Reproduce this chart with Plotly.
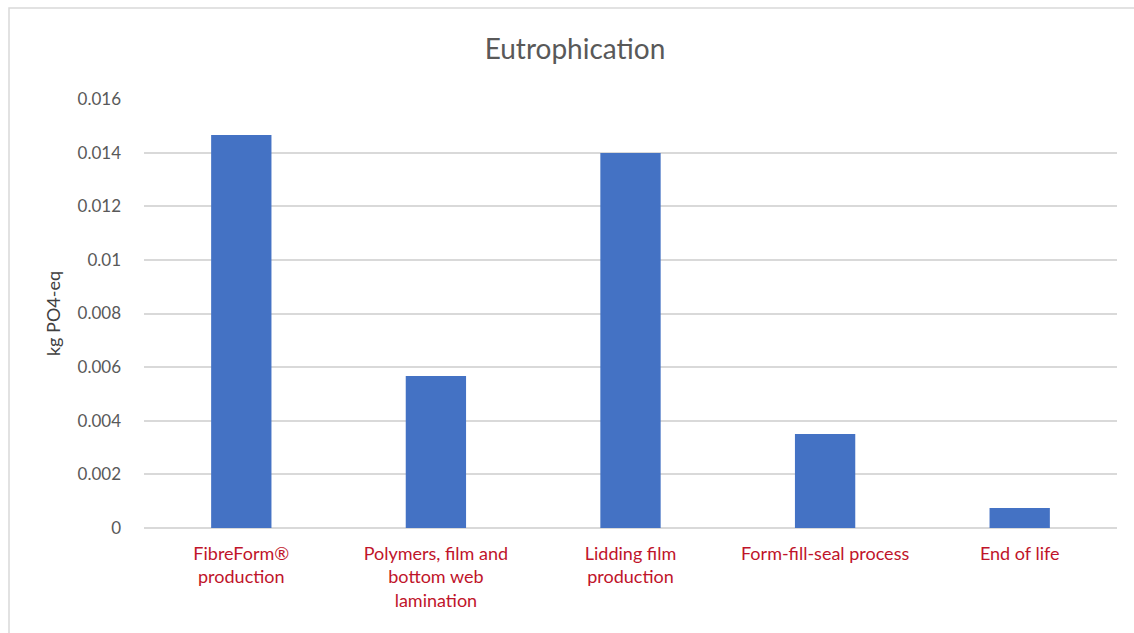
import plotly.graph_objects as go

categories = ["FibreForm®<br>production", "Polymers, film and<br>bottom web<br>lamination",
              "Lidding film<br>production", "Form-fill-seal process", "End of life"]
values = [0.01466, 0.00567, 0.01399, 0.00351, 0.00075]
tick_vals = [0, 0.002, 0.004, 0.006, 0.008, 0.010, 0.012, 0.014, 0.016]
tick_text = ["0", "0.002", "0.004", "0.006", "0.008", "0.01", "0.012", "0.014", "0.016"]

fig = go.Figure(go.Bar(x=categories, y=values, marker=dict(color="#4472C4", line=dict(width=0))))

fig.update_layout(
    width=1134, height=633,
    margin=dict(l=144, r=17, t=99, b=105),
    paper_bgcolor="white", plot_bgcolor="white",
    bargap=0.69,
    showlegend=False,
    font=dict(family="Lato, Open Sans, sans-serif"),
    title=dict(text="Eutrophication", x=575 / 1134, xref="container", xanchor="center",
               y=1 - 49 / 633, yref="container", yanchor="middle",
               font=dict(size=28, color="#595959")),
    xaxis=dict(showgrid=False, showline=False, ticks="", ticklabelstandoff=13,
               tickfont=dict(size=18, color="#C0142A")),
    yaxis=dict(range=[0, 0.016], tickvals=tick_vals, ticktext=tick_text,
               showgrid=True, gridcolor="#D9D9D9", gridwidth=1.5,
               zeroline=True, zerolinecolor="#D9D9D9", zerolinewidth=1.5,
               showline=False, ticks="", ticklabelstandoff=22,
               tickfont=dict(size=17, color="#595959"),
               title=dict(text="kg PO4-eq", font=dict(size=18, color="#404040"), standoff=12)),
    shapes=[dict(type="rect", xref="paper", yref="paper",
                 x0=(9 - 144) / 973, x1=1.2, y0=-0.5, y1=1 + (99 - 8) / 429,
                 line=dict(color="#D9D9D9", width=1.5), fillcolor="rgba(0,0,0,0)", layer="below")],
)

fig.write_html("out.html")
